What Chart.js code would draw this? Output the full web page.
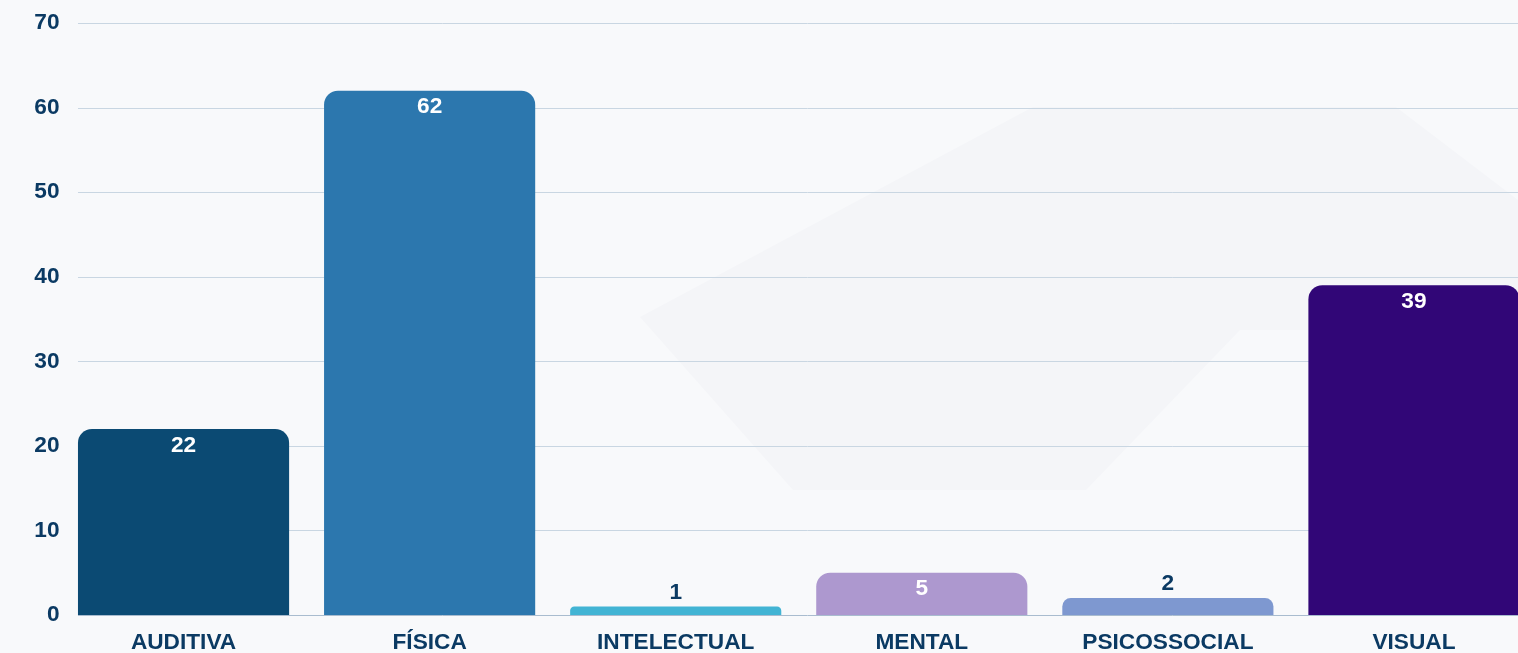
<!DOCTYPE html>
<html>
<head>
<meta charset="utf-8">
<script src="https://cdn.jsdelivr.net/npm/chart.js@4/dist/chart.umd.min.js"></script>
<style>
  html, body { margin: 0; padding: 0; overflow: hidden; background: #f8f9fb; width: 1518px; height: 653px; }
  #bg { position: absolute; left: 0; top: 0; width: 1518px; height: 653px; overflow: hidden; }
  #bg .hex { position: absolute; left: 0; top: 0; width: 1518px; height: 653px; background: #f4f5f8;
    clip-path: polygon(1033px 107px, 1396px 107px, 1518px 200px, 1518px 330px, 1240px 330px, 1086px 490px, 793px 490px, 640px 317px); }
  #wrap { position: absolute; left: 0; top: 0; width: 1537px; height: 660px; }
</style>
</head>
<body>
<div id="bg"><div class="hex"></div></div>
<div id="wrap"><canvas id="c"></canvas></div>
<script>
const categories = ['AUDITIVA', 'FÍSICA', 'INTELECTUAL', 'MENTAL', 'PSICOSSOCIAL', 'VISUAL'];
const values = [22, 62, 1, 5, 2, 39];
const barColors = ['#0b4a73', '#2c77ae', '#42b4d4', '#ad98cf', '#7e98d0', '#310677'];
const yTicks = [0, 10, 20, 30, 40, 50, 60, 70];

const textColor = '#0b3a63';
const fontFamily = '"Liberation Sans", Arial, Helvetica, sans-serif';
const fontSize = 22.67;

const gridPlugin = {
  id: 'customGrid',
  beforeDatasetsDraw(chart) {
    const ys = chart.scales.y;
    const meta = chart.getDatasetMeta(0);
    const first = meta.data[0];
    const left = first.x - first.width / 2;
    const right = chart.chartArea.right;
    const ctx = chart.ctx;
    ctx.save();
    ctx.lineWidth = 1;
    yTicks.forEach(v => {
      const y = Math.round(ys.getPixelForValue(v)) + 0.5;
      ctx.strokeStyle = v === 0 ? '#a9bccf' : '#c9d6e2';
      ctx.beginPath();
      ctx.moveTo(left, y);
      ctx.lineTo(right, y);
      ctx.stroke();
    });
    ctx.restore();
  }
};

const labelPlugin = {
  id: 'valueLabels',
  afterDatasetsDraw(chart) {
    const ctx = chart.ctx;
    const meta = chart.getDatasetMeta(0);
    ctx.save();
    ctx.font = 'bold ' + fontSize + 'px ' + fontFamily;
    ctx.textAlign = 'center';
    ctx.textBaseline = 'middle';
    meta.data.forEach((bar, i) => {
      const h = bar.base - bar.y;
      if (h > 30) {
        ctx.fillStyle = '#ffffff';
        ctx.fillText(String(values[i]), bar.x, bar.y + 16.5);
      } else {
        ctx.fillStyle = textColor;
        ctx.fillText(String(values[i]), bar.x, bar.y - 14);
      }
    });
    ctx.restore();
  }
};

new Chart(document.getElementById('c'), {
  type: 'bar',
  data: {
    labels: categories,
    datasets: [{
      data: values,
      backgroundColor: barColors,
      borderWidth: 0,
      borderRadius: { topLeft: 14, topRight: 14, bottomLeft: 0, bottomRight: 0 },
      borderSkipped: 'bottom',
      barPercentage: 0.858,
      categoryPercentage: 1.0
    }]
  },
  plugins: [gridPlugin, labelPlugin],
  options: {
    responsive: true,
    maintainAspectRatio: false,
    animation: false,
    layout: { padding: { top: 23, right: 0, bottom: 0, left: 0 } },
    plugins: { legend: { display: false }, tooltip: { enabled: false } },
    scales: {
      x: {
        grid: { display: false, drawTicks: false },
        border: { display: false },
        ticks: {
          color: textColor,
          font: { family: fontFamily, size: fontSize, weight: 'bold' },
          padding: 14,
          maxRotation: 0,
          autoSkip: false
        },
        afterFit(scale) { scale.height = 45; }
      },
      y: {
        min: 0,
        max: 70,
        grid: { display: false, drawTicks: false },
        border: { display: false },
        ticks: {
          stepSize: 10,
          color: textColor,
          font: { family: fontFamily, size: fontSize, weight: 'bold' },
          padding: 1
        },
        afterFit(scale) { scale.width = 60.5; }
      }
    }
  }
});
</script>
</body>
</html>
